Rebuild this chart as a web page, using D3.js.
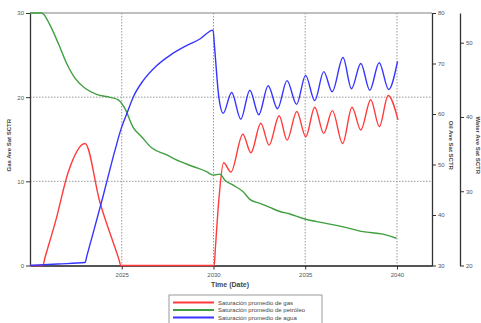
<!DOCTYPE html>
<html>
<head>
<meta charset="utf-8">
<script src="https://cdn.jsdelivr.net/npm/d3@7/dist/d3.min.js"></script>
<style>
  body { margin: 0; background: #fff; }
  svg text { font-family: "Liberation Sans", Arial, sans-serif; }
</style>
</head>
<body>
<div id="chart"></div>
<script>
// Gas saturation (left axis)
const gasYears = [2020, 2020.7, 2020.8, 2021.4, 2022.07, 2023.0, 2023.8, 2024.85, 2024.95, 2030.04, 2030.1, 2030.3,
  2030.55, 2030.95, 2031.6, 2032.04, 2032.58, 2033.03, 2033.58, 2034.01, 2034.54, 2035.03, 2035.52,
  2036.01, 2036.48, 2037.04, 2037.55, 2038.03, 2038.57, 2039.04, 2039.52, 2040.06];
const gasValues = [0, 0, 0.8, 5.3, 11.0, 14.5, 7.6, 0.7, 0, 0, 1.9, 8.0,
  12.2, 11.1, 15.6, 13.4, 16.9, 14.3, 17.8, 14.9, 18.3, 15.3, 18.8,
  15.7, 18.4, 14.5, 18.8, 16.1, 19.7, 16.5, 20.2, 17.3];

// Oil saturation (first right axis)
const oilYears = [2020, 2020.64, 2021.09, 2021.54, 2022.0, 2022.45, 2023.0, 2023.63, 2024.36, 2024.81,
  2025.17, 2025.63, 2026.08, 2026.63, 2027.45, 2028.17, 2028.89, 2029.62, 2029.98, 2030.35,
  2030.62, 2031.07, 2031.62, 2031.98, 2032.53, 2033.07, 2033.62, 2034.16, 2034.98, 2035.62,
  2036.34, 2037.25, 2038.15, 2039.24, 2039.97];
const oilValues = [80, 80, 77.6, 74.0, 70.0, 67.1, 65.1, 63.9, 63.3, 62.8,
  61.1, 57.3, 55.5, 53.3, 51.9, 50.6, 49.6, 48.6, 47.9, 48.1,
  46.9, 45.9, 44.6, 43.1, 42.3, 41.5, 40.7, 40.2, 39.2, 38.7,
  38.2, 37.5, 36.7, 36.2, 35.4];

// Water saturation (second right axis)
const waterYears = [2020, 2021.5, 2023.0, 2023.1, 2023.5, 2024.0, 2024.63, 2024.99, 2025.27, 2025.63, 2026.17,
  2026.9, 2027.63, 2028.53, 2029.26, 2029.98, 2030.05, 2030.3, 2030.53, 2030.99, 2031.49, 2031.98, 2032.47,
  2032.98, 2033.49, 2034.01, 2034.53, 2035.02, 2035.52, 2036.01, 2036.47, 2037.06, 2037.52,
  2038.03, 2038.52, 2039.03, 2039.55, 2040.03];
const waterValues = [20.0, 20.2, 20.4, 21.3, 24.9, 29.5, 35.5, 38.6, 40.4, 42.7, 44.9,
  46.9, 48.3, 49.6, 50.5, 51.7, 49.7, 42.5, 40.5, 43.3, 39.7, 43.6, 40.3,
  44.2, 41.1, 44.9, 41.7, 45.6, 42.2, 46.1, 43.4, 48.0, 43.8,
  47.2, 43.6, 47.3, 43.7, 47.5];

const xTicks = [2025, 2030, 2035, 2040];
const gasTicks = [0, 10, 20, 30];
const oilTicks = [30, 40, 50, 60, 70, 80];
const waterTicks = [20, 30, 40, 50];

const seriesNames = ['Saturación promedio de gas', 'Saturación promedio de petróleo', 'Saturación promedio de agua'];
const colors = { gas: '#ff3b3b', oil: '#3f9f3f', water: '#3535ff', axis: '#333', grid: '#999', text: '#555' };

const width = 481, height = 323;
const margin = { top: 13, right: 49, bottom: 57.5, left: 30 };
const plotW = width - margin.left - margin.right;
const plotH = height - margin.top - margin.bottom;

const svg = d3.select('#chart').append('svg')
  .attr('width', width)
  .attr('height', height);

const x = d3.scaleLinear().domain([2020, 2041.91]).range([margin.left, margin.left + plotW]);
const yGas = d3.scaleLinear().domain([0, 30]).range([margin.top + plotH, margin.top]);
const yOil = d3.scaleLinear().domain([30, 80]).range([margin.top + plotH, margin.top]);
const yWater = d3.scaleLinear().domain([20, 54]).range([margin.top + plotH, margin.top]);

// grid
svg.append('g').selectAll('line').data(xTicks).enter().append('line')
  .attr('x1', d => x(d)).attr('x2', d => x(d))
  .attr('y1', margin.top).attr('y2', margin.top + plotH)
  .attr('stroke', colors.grid).attr('stroke-width', 1).attr('stroke-dasharray', '1.5,1.5');
svg.append('g').selectAll('line').data([10, 20]).enter().append('line')
  .attr('x1', margin.left).attr('x2', margin.left + plotW)
  .attr('y1', d => yGas(d)).attr('y2', d => yGas(d))
  .attr('stroke', colors.grid).attr('stroke-width', 1).attr('stroke-dasharray', '1.5,1.5');

// top border
svg.append('line')
  .attr('x1', margin.left).attr('x2', margin.left + plotW)
  .attr('y1', margin.top).attr('y2', margin.top)
  .attr('stroke', '#aaa').attr('stroke-width', 1.5);

function styleAxis(g) {
  g.selectAll('text').attr('fill', colors.text).attr('font-size', 6);
  g.selectAll('line').attr('stroke', colors.axis);
  g.select('.domain').attr('stroke', colors.axis).attr('stroke-width', 1.3);
}

// bottom axis
const xAxis = svg.append('g')
  .attr('transform', `translate(0,${margin.top + plotH})`)
  .call(d3.axisBottom(x).tickValues(xTicks).tickFormat(d3.format('d')).tickSize(4).tickSizeOuter(0));
styleAxis(xAxis);
xAxis.select('.domain').attr('stroke', '#555').attr('stroke-width', 2);

// left axis
const gasAxis = svg.append('g')
  .attr('transform', `translate(${margin.left},0)`)
  .call(d3.axisLeft(yGas).tickValues(gasTicks).tickSize(4).tickSizeOuter(0).tickPadding(2));
styleAxis(gasAxis);

// oil axis
const oilX = margin.left + plotW;
const oilAxis = svg.append('g')
  .attr('transform', `translate(${oilX},0)`)
  .call(d3.axisRight(yOil).tickValues(oilTicks).tickSize(4).tickSizeOuter(0).tickPadding(2));
styleAxis(oilAxis);

// water axis
const waterX = 460;
const waterAxis = svg.append('g')
  .attr('transform', `translate(${waterX},0)`)
  .call(d3.axisRight(yWater).tickValues(waterTicks).tickSize(4).tickSizeOuter(0).tickPadding(2));
styleAxis(waterAxis);

// axis titles
svg.append('text')
  .attr('transform', `translate(11,${margin.top + plotH / 2 + 6}) rotate(-90)`)
  .attr('text-anchor', 'middle').attr('font-size', 6).attr('font-weight', 'bold').attr('fill', '#444')
  .text('Gas Ave Sat SCTR');
svg.append('text')
  .attr('transform', `translate(449,${margin.top + plotH / 2 + 6}) rotate(90)`)
  .attr('text-anchor', 'middle').attr('font-size', 6).attr('font-weight', 'bold').attr('fill', '#444')
  .text('Oil Ave Sat SCTR');
svg.append('text')
  .attr('transform', `translate(476,${margin.top + plotH / 2 + 6}) rotate(90)`)
  .attr('text-anchor', 'middle').attr('font-size', 6).attr('font-weight', 'bold').attr('fill', '#444')
  .text('Water Ave Sat SCTR');
svg.append('text')
  .attr('x', x(2030.9)).attr('y', 287)
  .attr('text-anchor', 'middle').attr('font-size', 7).attr('font-weight', 'bold').attr('fill', '#444')
  .text('Time (Date)');

// series
const series = [
  { name: seriesNames[0], years: gasYears, values: gasValues, y: yGas, color: colors.gas },
  { name: seriesNames[1], years: oilYears, values: oilValues, y: yOil, color: colors.oil },
  { name: seriesNames[2], years: waterYears, values: waterValues, y: yWater, color: colors.water }
];

series.forEach(s => {
  const line = d3.line()
    .x((d, i) => x(s.years[i]))
    .y(d => s.y(d))
    .curve(d3.curveMonotoneX);
  svg.append('path')
    .datum(s.values)
    .attr('fill', 'none')
    .attr('stroke', s.color)
    .attr('stroke-width', 1.4)
    .attr('stroke-linejoin', 'round')
    .attr('d', line);
});

// legend
const legend = svg.append('g').attr('transform', 'translate(169,295)');
legend.append('rect')
  .attr('width', 153).attr('height', 34)
  .attr('fill', '#fff').attr('stroke', '#999').attr('stroke-width', 1);
series.forEach((s, i) => {
  const ly = 7.5 + i * 7.5;
  legend.append('line')
    .attr('x1', 4).attr('x2', 45).attr('y1', ly).attr('y2', ly)
    .attr('stroke', s.color).attr('stroke-width', 1.8);
  legend.append('text')
    .attr('x', 49).attr('y', ly + 2)
    .attr('font-size', 6).attr('fill', '#444')
    .text(s.name);
});
</script>
</body>
</html>
